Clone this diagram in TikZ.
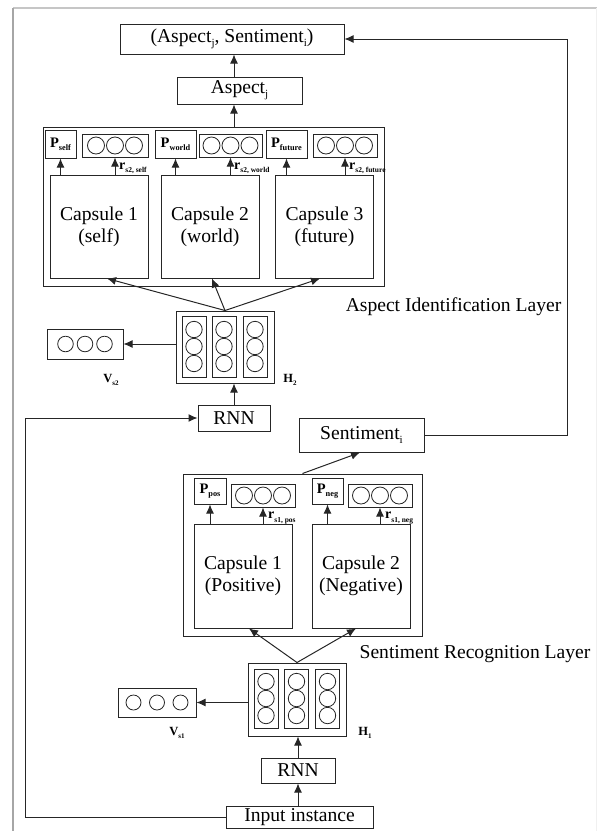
\documentclass[tikz,border=0pt]{standalone}
\usepackage{fontspec}
\setmainfont{Liberation Serif}
\usetikzlibrary{arrows.meta}

% lowered small text used for subscripts
\newcommand{\lowsub}[2]{\raisebox{-0.22em}{\fontsize{#1}{#1}\selectfont #2}}
\newcommand{\bigtxt}{\fontsize{19.6}{22}\selectfont}

\begin{document}
\begin{tikzpicture}[x=1pt,y=-1pt,
  line join=miter,
  box/.style={draw=black!85, line width=1pt, inner sep=0pt, align=center, font=\bigtxt},
  layer/.style={draw=black!85, line width=1pt, inner sep=0pt},
  capsule/.style={box, minimum width=98pt, minimum height=103pt},
  pbox/.style={draw=black!85, line width=1pt, inner sep=0pt, minimum height=28pt,
               font=\fontsize{14.5}{14.5}\selectfont\bfseries},
  vbox/.style={draw=black!85, line width=1pt, inner sep=0pt, minimum height=23pt},
  hbox/.style={draw=black!85, line width=1pt, inner sep=0pt, minimum width=98pt},
  hcol/.style={draw=black!85, line width=0.9pt, inner sep=0pt, minimum width=24pt},
  ring/.style={draw=black!85, line width=0.8pt},
  lbl/.style={inner sep=0pt, font=\bigtxt},
  rlab/.style={inner sep=0pt, anchor=west, font=\fontsize{14}{14}\selectfont\bfseries},
  hlab/.style={inner sep=0pt, font=\fontsize{12.5}{12.5}\selectfont\bfseries},
  arr/.style={draw=black!85, line width=1pt, -{Latex[length=9pt,width=8pt]}},
  link/.style={draw=black!85, line width=1pt}
]
\useasboundingbox (0,0) rectangle (597,831);

% page frame
\draw[gray!45, line width=1.2pt] (13,8) -- (597,8);
\draw[gray!70, line width=1.2pt] (13,831) -- (13,8);
\draw[gray!12, line width=1pt] (596,8) -- (596,831);

% ---------- top outputs ----------
\node[box, minimum width=224pt, minimum height=30pt] (pair) at (232,39)
  {(Aspect\lowsub{11}{j}, Sentiment\lowsub{11}{i})};
\node[box, minimum width=125pt, minimum height=27pt] (asp) at (239.5,90.5)
  {Aspect\lowsub{11}{j}};

% ---------- aspect identification layer ----------
\node[layer, minimum width=341pt, minimum height=159pt] (alay) at (213.5,206.5) {};

\node[pbox, minimum width=31pt] (ps) at (60.5,144) {P\lowsub{8.3}{self}};
\node[vbox, minimum width=66pt] (va1) at (115,145.5) {};
\node[pbox, minimum width=41pt] (pw) at (175.5,144) {P\lowsub{8.3}{world}};
\node[vbox, minimum width=63pt] (va2) at (230.5,145.5) {};
\node[pbox, minimum width=41pt] (pf) at (286.5,144) {P\lowsub{8.3}{future}};
\node[vbox, minimum width=64pt] (va3) at (345,145.5) {};

\node[capsule] (ac1) at (99,226.5) {Capsule 1\\(self)};
\node[capsule] (ac2) at (210,226.5) {Capsule 2\\(world)};
\node[capsule] (ac3) at (324.5,226.5) {Capsule 3\\(future)};

\node[rlab] (ra1) at (119,168) {r\lowsub{7.5}{s2, self}};
\node[rlab] (ra2) at (234,168) {r\lowsub{7.5}{s2, world}};
\node[rlab] (ra3) at (349,168) {r\lowsub{7.5}{s2, future}};

\node[lbl] (alab) at (453.5,307) {Aspect Identification Layer};

% hidden states H2
\node[hbox, minimum height=72pt] (h2) at (225,347) {};
\node[hcol, minimum height=61pt] (h2a) at (194,346.5) {};
\node[hcol, minimum height=61pt] (h2b) at (224,346.5) {};
\node[hcol, minimum height=61pt] (h2c) at (255,346.5) {};
\node[vbox, minimum width=76pt, minimum height=30pt] (vs2) at (85,344) {};
\node[hlab] (vs2l) at (111,380) {V\lowsub{7}{s2}};
\node[hlab] (h2l) at (290,380) {H\lowsub{7}{2}};

\node[box, minimum width=72pt, minimum height=26pt] (rnna) at (234,418) {RNN};

% ---------- sentiment recognition layer ----------
\node[box, minimum width=125pt, minimum height=34pt] (sent) at (361.5,435)
  {Sentiment\lowsub{11}{i}};

\node[layer, minimum width=239pt, minimum height=162pt] (slay) at (302.5,555) {};
\node[pbox, minimum width=32pt, minimum height=26pt] (pp) at (210,491) {P\lowsub{8.3}{pos}};
\node[vbox, minimum width=64pt] (vp1) at (263,495.5) {};
\node[pbox, minimum width=31pt, minimum height=26pt] (pn) at (327.5,491) {P\lowsub{8.3}{neg}};
\node[vbox, minimum width=64pt] (vp2) at (380,495.5) {};

\node[capsule, minimum height=104pt] (sc1) at (243,576) {Capsule 1\\(Positive)};
\node[capsule, minimum height=104pt] (sc2) at (361,576) {Capsule 2\\(Negative)};

\node[rlab] (rs1) at (268,518) {r\lowsub{7.5}{s1, pos}};
\node[rlab] (rs2) at (385,518) {r\lowsub{7.5}{s1, neg}};

\node[lbl] (slab) at (475,654) {Sentiment Recognition Layer};

% hidden states H1
\node[hbox, minimum height=73pt] (h1) at (297,699.5) {};
\node[hcol, minimum height=59pt] (h1a) at (266,698.5) {};
\node[hcol, minimum height=59pt] (h1b) at (296.5,698.5) {};
\node[hcol, minimum height=59pt] (h1c) at (327.5,698.5) {};
\node[vbox, minimum width=78pt, minimum height=29pt] (vs1) at (157,702.5) {};
\node[hlab] (vs1l) at (177,733) {V\lowsub{7}{s1}};
\node[hlab] (h1l) at (365,733) {H\lowsub{7}{1}};

\node[box, minimum width=74pt, minimum height=25pt] (rnnb) at (298,770.5) {RNN};
\node[box, minimum width=147pt, minimum height=22pt] (inp) at (299.5,817) {Input instance};

% ---------- circles inside the vector boxes ----------
\foreach \v in {va1,va2,va3,vp1,vp2}
  \foreach \d in {-19,0,19}
    \draw[ring] (\v.center) ++(\d,0) circle[radius=8.5pt];
\foreach \d in {-19.5,0,19.5}
  \draw[ring] (vs2.center) ++(\d,0) circle[radius=7.8pt];
\foreach \d in {-23.5,0,23.5}
  \draw[ring] (vs1.center) ++(\d,0) circle[radius=7.5pt];
\foreach \c in {h2a,h2b,h2c,h1a,h1b,h1c}
  \foreach \d in {-17,0,17}
    \draw[ring] (\c.center) ++(0,\d) circle[radius=8.2pt];

% ---------- connectors ----------
\draw[arr] (asp.north -| 234,0) -- (pair.south -| 234,0);
\draw[arr] (alay.north -| 234,0) -- (asp.south -| 234,0);

\foreach \c/\p/\v in {ac1/ps/va1, ac2/pw/va2, ac3/pf/va3}{
  \draw[arr] (\p.south |- \c.north) -- (\p.south);
  \draw[arr] (\v.south |- \c.north) -- (\v.south);
}
\draw[arr] (h2.north) -- ([xshift=8pt]ac1.south);
\draw[arr] (h2.north) -- ([xshift=2pt]ac2.south);
\draw[arr] (h2.north) -- ([xshift=-4.5pt]ac3.south);
\draw[arr] (h2.west |- vs2.east) -- (vs2.east);
\draw[arr] (rnna.north) -- (h2.south -| rnna.north);

\foreach \c/\p/\v in {sc1/pp/vp1, sc2/pn/vp2}{
  \draw[arr] (\p.south |- \c.north) -- (\p.south);
  \draw[arr] (\v.south |- \c.north) -- (\v.south);
}
\draw[arr] (slay.north) -- ([xshift=-1.5pt]sent.south);
\draw[arr] (h1.north) -- ([xshift=6pt]sc1.south);
\draw[arr] (h1.north) -- ([xshift=-5pt]sc2.south);
\draw[arr] (h1.west |- vs1.east) -- (vs1.east);
\draw[arr] (rnnb.north) -- (h1.south -| rnnb.north);
\draw[arr] (inp.north -| rnnb.north) -- (rnnb.south);

% feedback and skip connections
\coordinate (loopc) at (25,418);
\coordinate (fbc) at (567,39);
\draw[arr] (inp.west) -| (loopc) -- (rnna.west);
\draw[arr] (sent.east) -| (fbc) -- (pair.east);
\end{tikzpicture}
\end{document}
